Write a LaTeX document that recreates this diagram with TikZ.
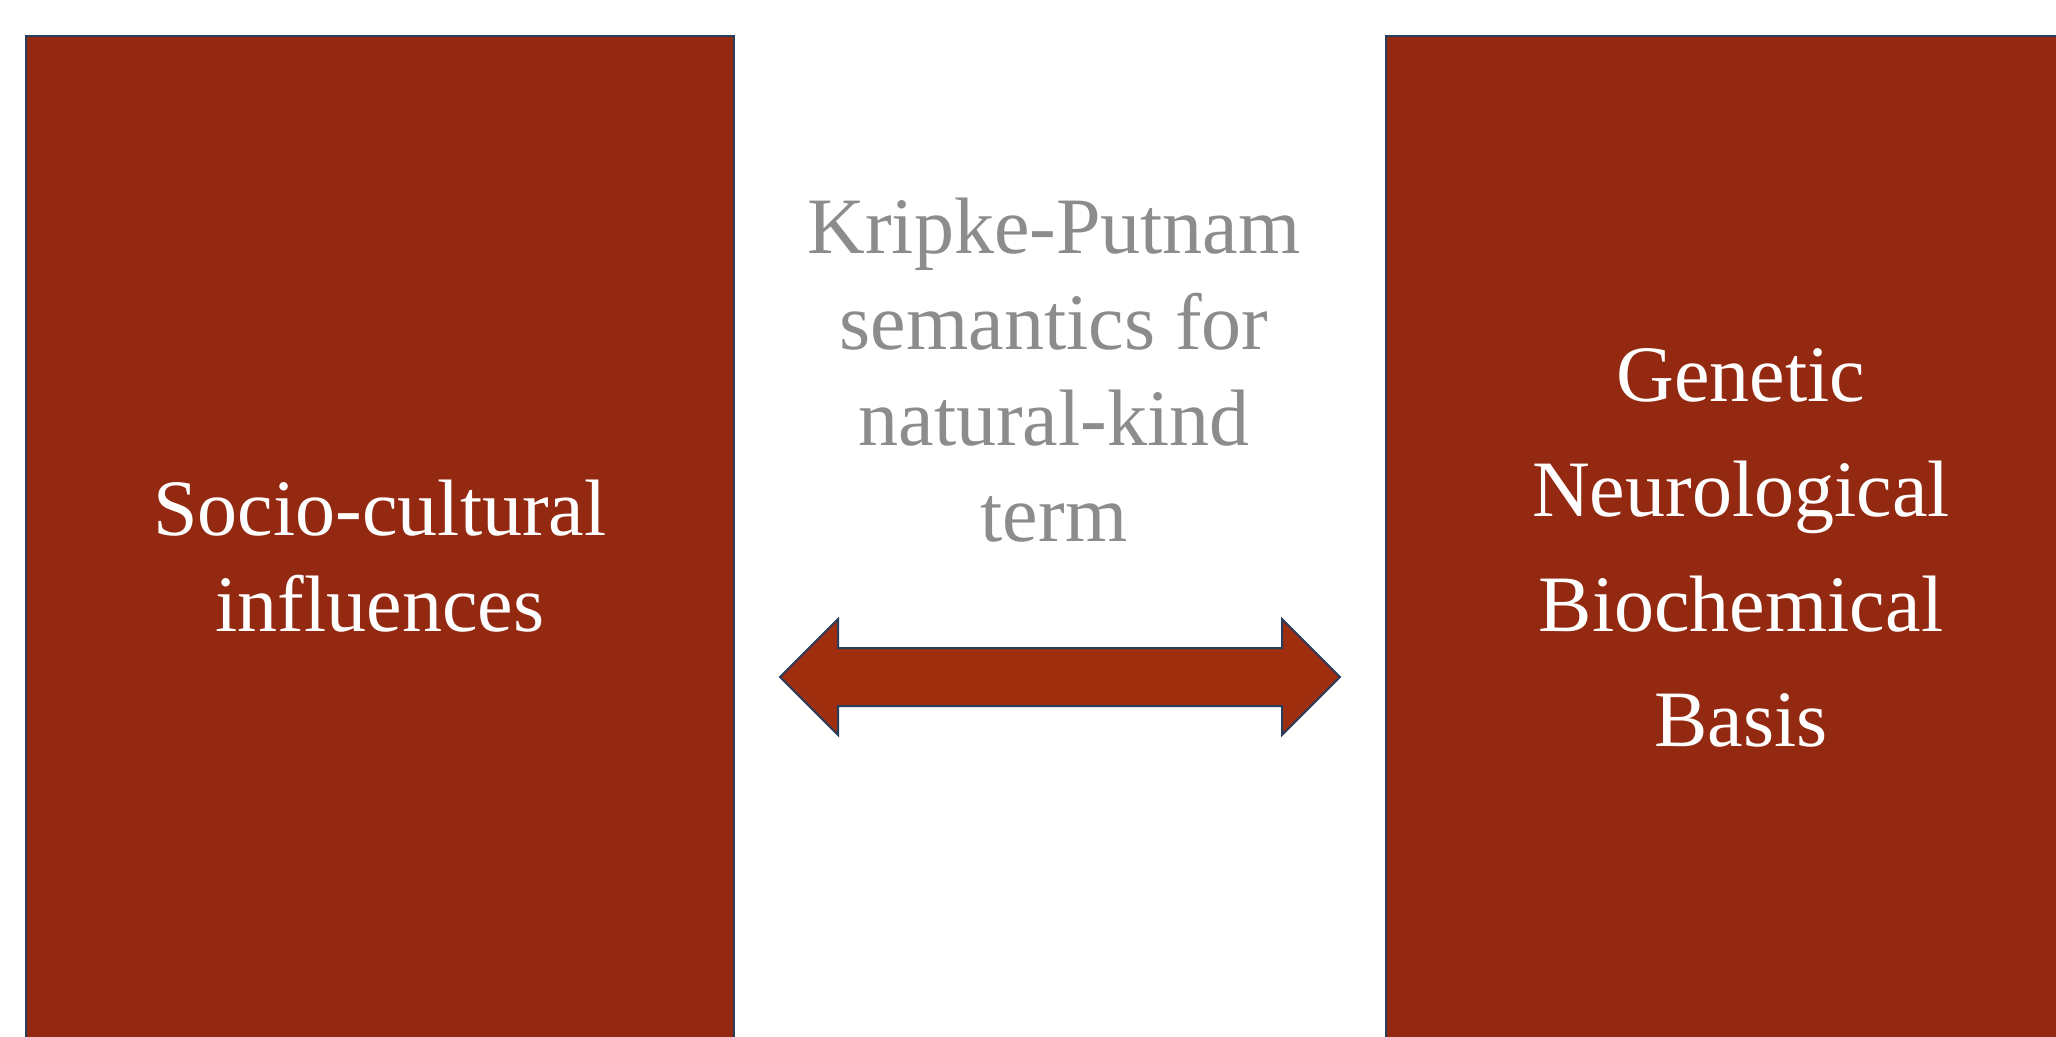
\documentclass[tikz,border=0pt]{standalone}
\usepackage{fontspec}
\setmainfont{Liberation Serif}
\usetikzlibrary{positioning}
\usetikzlibrary{shapes.arrows}
\definecolor{panel colour}{RGB}{148,41,17}
\definecolor{link colour}{RGB}{158,46,14}
\definecolor{edge colour}{RGB}{40,62,90}
\definecolor{note colour}{RGB}{140,140,140}
\tikzset{
    % Big type, as on a slide
    slide font/.style={font=\fontsize{40pt}{#1}\selectfont},
    % Outlines all share the dark blue edge
    edged/.style={draw=edge colour, line width=1pt},
    every node/.style={align=center},
}

\begin{document}
\begin{tikzpicture}[
    x=0.5pt, y=-0.5pt,
    panel/.style={edged, fill=panel colour, inner sep=0,
        minimum width=#1, minimum height=532pt},
    panel text/.style={text=white, slide font=#1},
    note text/.style={text=note colour, slide font=48pt},
    link/.style={edged, fill=link colour, double arrow,
        inner xsep=0, inner ysep=14pt, minimum height=280pt,
        double arrow head extend=14.5pt},
]
\useasboundingbox (0,0) rectangle (2056,1037);
\clip (0,0) rectangle (2056,1037);

\node [panel=354pt] (social) at (380,568) {};
\node [panel=380pt] (biology) at (1766,568) {};
\node [link] (kind link) at (1060,677) {};

\node [panel text=48pt] (social text) at (380,556)
    {Socio-cultural\\influences};
\node [panel text=57.5pt] (biology text) at (1741,547.5)
    {Genetic\\Neurological\\Biochemical\\Basis};
\node [note text] (semantics) at (1054,370)
    {Kripke-Putnam\\semantics for\\natural-kind\\term};

\end{tikzpicture}
\end{document}
